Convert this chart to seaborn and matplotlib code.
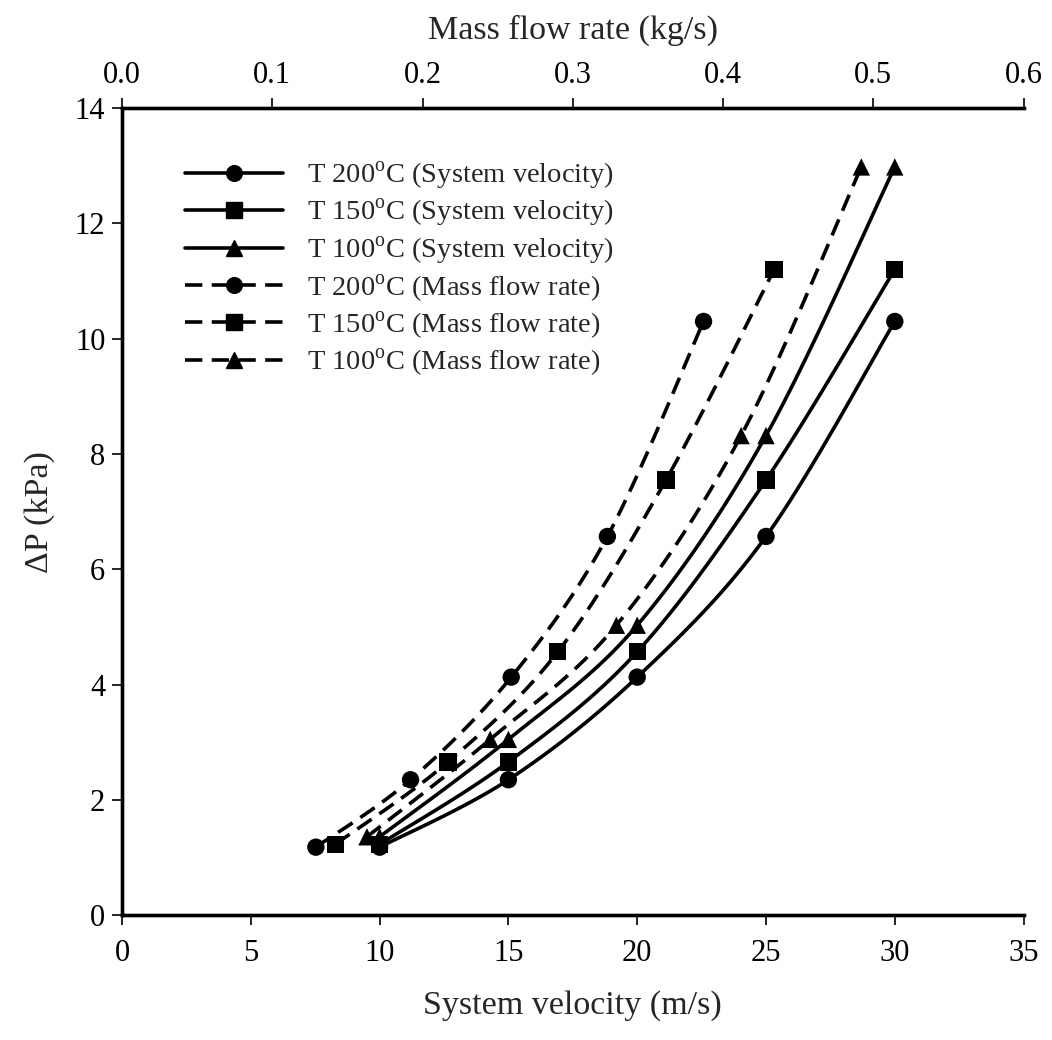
import numpy as np
import pandas as pd
import matplotlib
matplotlib.use("Agg")
import matplotlib.pyplot as plt
from matplotlib.lines import Line2D
import seaborn as sns

# ---------------------------------------------------------------------------
# Data
# ---------------------------------------------------------------------------
temps = ["200", "150", "100"]
markers = {"200": "o", "150": "s", "100": "^"}

velocity = [10, 15, 20, 25, 30]  # m/s, same for every temperature
dp_200 = [1.18, 2.35, 4.13, 6.57, 10.30]
dp_150 = [1.23, 2.66, 4.57, 7.55, 11.20]
dp_100 = [1.36, 3.05, 5.03, 8.32, 12.98]

mfr_200 = [0.129, 0.192, 0.259, 0.323, 0.387]  # kg/s
mfr_150 = [0.142, 0.217, 0.290, 0.362, 0.434]
mfr_100 = [0.163, 0.245, 0.329, 0.412, 0.492]

dp = {"200": dp_200, "150": dp_150, "100": dp_100}
mfr = {"200": mfr_200, "150": mfr_150, "100": mfr_100}

rows = []
for t in temps:
    for v, m, p in zip(velocity, mfr[t], dp[t]):
        rows.append({"T": t, "velocity": v, "mfr": m, "dp": p})
df = pd.DataFrame(rows)


def smooth(xs, ys, n=30):
    """Catmull-Rom curve through the points (like a spreadsheet smoothed line)."""
    pts = np.column_stack([xs, ys]).astype(float)
    pts = np.vstack([pts[0], pts, pts[-1]])
    out = []
    for i in range(1, len(pts) - 2):
        p0, p1, p2, p3 = pts[i - 1], pts[i], pts[i + 1], pts[i + 2]
        t = np.linspace(0, 1, n)[:, None]
        seg = 0.5 * (2 * p1 + (-p0 + p2) * t
                     + (2 * p0 - 5 * p1 + 4 * p2 - p3) * t ** 2
                     + (-p0 + 3 * p1 - 3 * p2 + p3) * t ** 3)
        out.append(seg)
    out = np.vstack(out)
    return out[:, 0], out[:, 1]


sns.set_theme(style="ticks")
plt.rcParams["font.family"] = ["Liberation Serif", "DejaVu Serif"]
plt.rcParams["mathtext.fontset"] = "custom"
plt.rcParams["mathtext.rm"] = "Liberation Serif"

LW = 2.6
DASH = (0, (4.8, 2.6))
MS = 12.5

fig = plt.figure(figsize=(10.52, 10.4), dpi=100)
ax = fig.add_axes([0.116, 0.12, 0.857, 0.776])
ax2 = ax.twiny()

for t in temps:
    sub = df[df["T"] == t]
    xs, ys = smooth(sub["velocity"], sub["dp"])
    ax.plot(xs, ys, color="black", lw=LW, solid_capstyle="butt")
    xs, ys = smooth(sub["mfr"], sub["dp"])
    ax2.plot(xs, ys, color="black", lw=LW, linestyle=DASH)

sns.scatterplot(data=df, x="velocity", y="dp", style="T", markers=markers,
                color="black", s=MS ** 2, edgecolor="black", linewidth=0,
                legend=False, ax=ax, zorder=5)
sns.scatterplot(data=df, x="mfr", y="dp", style="T", markers=markers,
                color="black", s=MS ** 2, edgecolor="black", linewidth=0,
                legend=False, ax=ax2, zorder=5)

ax.set_xlim(0, 35)
ax.set_ylim(0, 14)
ax2.set_xlim(0, 0.6)
ax.set_xticks(np.arange(0, 36, 5))
ax.set_yticks(np.arange(0, 15, 2))
ax2.set_xticks(np.arange(0, 0.61, 0.1))
ax2.set_xticklabels([f"{v:.1f}" for v in np.arange(0, 0.61, 0.1)])

ax.set_xlabel("System velocity (m/s)", fontsize=24.5, labelpad=16)
ax.set_ylabel("ΔP (kPa)", fontsize=24.5, labelpad=14)
ax2.set_xlabel("Mass flow rate (kg/s)", fontsize=24.5, labelpad=16)

for a in (ax, ax2):
    a.tick_params(direction="out", length=7, width=1.2, labelsize=22,
                  color="black", labelcolor="black")
    for side in ("left", "bottom", "top"):
        a.spines[side].set_linewidth(2.4)
        a.spines[side].set_color("black")
    a.spines["right"].set_visible(False)
    a.grid(False)
ax.tick_params(axis="x", pad=10)
ax2.tick_params(axis="x", pad=6)
ax.tick_params(axis="y", pad=5)

handles = []
for kind, ls in (("System velocity", "-"), ("Mass flow rate", DASH)):
    for t in temps:
        handles.append(Line2D([0], [0], color="black", lw=LW, linestyle=ls,
                              marker=markers[t], markersize=MS * 0.9,
                              label=f"T {t}$^{{\\rm o}}$C ({kind})"))
ax.legend(handles=handles, loc="upper left", bbox_to_anchor=(0.054, 0.954),
          frameon=False, fontsize=20.5, handlelength=3.45, labelspacing=0.19,
          handletextpad=0.85, borderpad=0)

fig.savefig("out.png", dpi=100)
